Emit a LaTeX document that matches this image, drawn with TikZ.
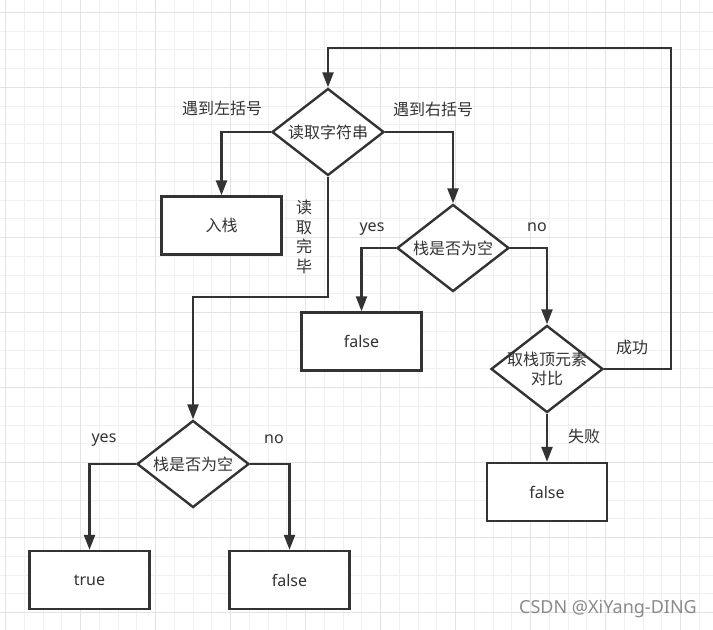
\documentclass[tikz,border=0pt]{standalone}
\usepackage{fontspec}
\setmainfont{Noto Sans}
\newfontfamily\cjk{Noto Sans CJK SC}
\usetikzlibrary{shapes.geometric,arrows.meta}
\definecolor{ink}{HTML}{333333}
\definecolor{gminor}{HTML}{F0F0F0}
\definecolor{gmajor}{HTML}{E3E3E3}
\definecolor{wmark}{HTML}{8A8A8A}
\tikzset{
  en/.style={text=ink, font=\fontsize{16bp}{19.5bp}\selectfont},
  zh/.style={text=ink, font=\cjk\fontsize{16bp}{19.5bp}\selectfont},
  boxnode/.style={draw=ink, fill=white, line width=2.4bp, minimum width=120bp, minimum height=58bp, inner sep=0pt},
  dianode/.style={diamond, draw=ink, fill=white, line width=2.4bp, minimum width=112bp, minimum height=87bp, inner sep=0pt},
  arr/.style={draw=ink, line width=2.4bp, -{Triangle[length=15bp,width=11bp]}},
  gridminor/.style={draw=gminor, line width=1bp},
  gridmajor/.style={draw=gmajor, line width=1bp}
}
\begin{document}
\begin{tikzpicture}[x=1bp,y=-1bp]
\useasboundingbox (0,0) rectangle (713,630);
\fill[white] (0,0) rectangle (713,630);
% grid
\foreach \i in {0,...,37} \draw[gridminor] ({5.7+18.75*\i},0) -- ++(0,630);
\foreach \i in {0,...,32} \draw[gridminor] (0,{12.5+18.75*\i}) -- ++(713,0);
\foreach \i in {0,...,9} \draw[gridmajor] ({5.7+75*\i},0) -- ++(0,630);
\foreach \i in {0,...,8} \draw[gridmajor] (0,{12.5+75*\i}) -- ++(713,0);

% decision nodes
\node[dianode, label={[zh]center:读取字符串}] (d1) at (328,132) {};
\node[dianode, label={[zh]center:栈是否为空}] (d2) at (453,248) {};
\node[dianode, label={[zh,align=center]center:取栈顶元素\\对比}] (d3) at (547,369) {};
\node[dianode, label={[zh]center:栈是否为空}] (d4) at (193,464) {};

% boxes
\node[boxnode, zh] (b1) at (221.5,225.5) {入栈};
\node[boxnode, en] (b2) at (361.5,341.5) {false};
\node[boxnode, en] (b3) at (547,492) {false};
\node[boxnode, en] (b4) at (89.5,580) {true};
\node[boxnode, en] (b5) at (289.5,580) {false};

% helper coordinates
\coordinate (lp) at (670.7,48);
\coordinate (jg) at (328,297);

% connectors
\draw[arr] (d1.west) -| (b1.north);
\draw[arr] (d1.east) -| (d2.north);
\draw[arr] (d2.west) -| (b2.north);
\draw[arr] (d2.east) -| (d3.north);
\draw[arr] (d3.south) -- (b3.north);
\draw[arr] (d3.east) -| (lp) -| (d1.north);
\draw[arr] (d1.south) -- (jg) -| (d4.north);
\draw[arr] (d4.west) -| (b4.north);
\draw[arr] (d4.east) -| (b5.north);

% labels
\node[zh] (l1) at (222,108) {遇到左括号};
\node[zh] (l2) at (433,109) {遇到右括号};
\node[zh, align=center] (l3) at (304,237) {读\\取\\完\\毕};
\node[en] (l4) at (372,229) {yes};
\node[en] (l5) at (537,227) {no};
\node[zh] (l6) at (632,347) {成功};
\node[zh] (l7) at (584,436) {失败};
\node[en] (l8) at (104,440) {yes};
\node[en] (l9) at (274,439) {no};

% watermark
\node[text=wmark, font=\fontsize{18bp}{20bp}\selectfont] (wm) at (608,609) {CSDN @XiYang-DING};
\end{tikzpicture}
\end{document}
